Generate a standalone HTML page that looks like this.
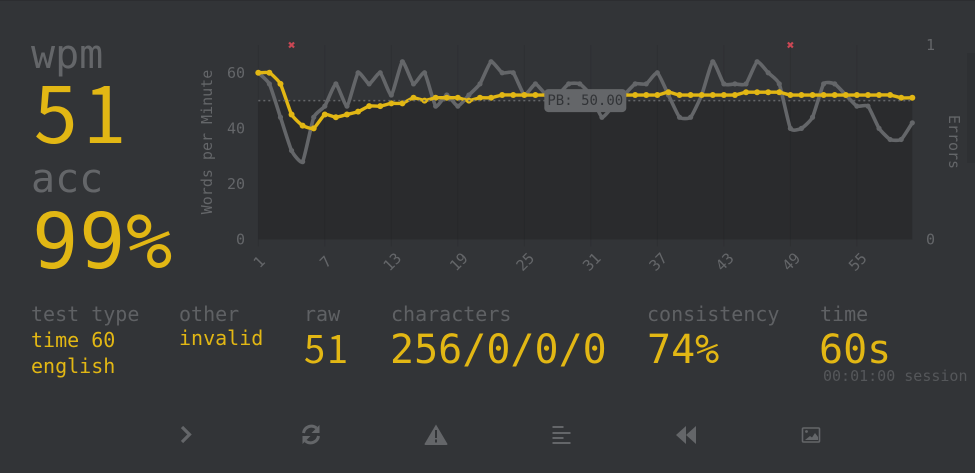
<!DOCTYPE html>
<html lang="en">
<head>
<meta charset="utf-8">
<title>Test result</title>
<style>
html,body{margin:0;padding:0;width:975px;height:473px;overflow:hidden;background:#323437}
svg{display:block;filter:blur(.35px)}
text{font-family:"DejaVu Sans Mono","Liberation Mono",monospace}
.lab{fill:#5f6164;font-size:20px}
.val{fill:#e2b714}
.num{font-family:"Noto Sans CJK JP","Liberation Sans",sans-serif}
.tick{fill:#646669;font-size:15px}
.ico{fill:#646669;stroke:none}
.icl{fill:none;stroke:#646669}
</style>
</head>
<body>
<svg id="root" width="975" height="473" viewBox="0 0 975 473" xmlns="http://www.w3.org/2000/svg">
  <rect x="0" y="0" width="975" height="473" fill="#323437"/>
  <rect x="0" y="0" width="975" height="1" fill="#2c2d30"/>
  <rect x="967" y="53" width="8" height="110" fill="#2e3033"/>

  <text x="31" y="68" font-size="40" fill="#646669">wpm</text>
  <text class="val num" x="34 83" y="143" font-size="78">51</text>
  <text x="31" y="192" font-size="40" fill="#646669">acc</text>
  <text class="val" x="32 79 126" y="268" font-size="77">99%</text>

  <text class="lab" x="31" y="321">test type</text>
  <text class="val" x="31" y="347" font-size="20">time 60</text>
  <text class="val" x="31" y="373" font-size="20">english</text>
  <text class="lab" x="179" y="321">other</text>
  <text class="val" x="179" y="345" font-size="20">invalid</text>
  <text class="lab" x="304" y="321">raw</text>
  <text class="val num" x="304 327" y="363" font-size="38">51</text>
  <text class="lab" x="391" y="321">characters</text>
  <text class="val" x="390" y="363" font-size="40">256/0/0/0</text>
  <text class="lab" x="647" y="321">consistency</text>
  <text class="val" x="647" y="363" font-size="40">74%</text>
  <text class="lab" x="820" y="321">time</text>
  <text class="val" x="819" y="363" font-size="40">60s</text>
  <text x="823" y="381" font-size="15" fill="#55575a">00:01:00 session</text>

  <g id="chart"></g>

  <text class="tick" transform="translate(212,142) rotate(-90)" text-anchor="middle">Words per Minute</text>
  <text class="tick" transform="translate(949,142) rotate(90)" text-anchor="middle">Errors</text>

  <g>
    <path class="icl" d="M182 427 L189.5 434.5 L182 442" stroke-width="3.2"/>
  </g>
  <g>
    <path class="icl" d="M303.5 433 A8 8 0 0 1 316.5 428" stroke-width="3"/>
    <path class="ico" d="M319.5 425 V433 H311.5 Z"/>
    <path class="icl" d="M318.5 436 A8 8 0 0 1 305.5 441" stroke-width="3"/>
    <path class="ico" d="M302.5 444 V436 H310.5 Z"/>
  </g>
  <g>
    <path class="ico" d="M436 424.5 L447.5 444 Q447.5 445 446 445 H426 Q424.5 445 424.5 444 Z"/>
    <rect x="435" y="430" width="2" height="8" fill="#323437"/>
    <rect x="435" y="439.5" width="2" height="3" fill="#323437"/>
  </g>
  <g>
    <rect class="ico" x="552.5" y="426" width="11" height="2"/>
    <rect class="ico" x="552.5" y="432" width="18" height="2"/>
    <rect class="ico" x="552.5" y="437" width="11" height="2"/>
    <rect class="ico" x="552.5" y="442" width="18" height="2"/>
  </g>
  <g>
    <path class="ico" d="M676 435 L686 426 V444 Z"/>
    <path class="ico" d="M686 435 L696 426 V444 Z"/>
  </g>
  <g>
    <rect class="icl" x="802.5" y="428" width="17" height="14" stroke-width="1.6" rx="1"/>
    <circle class="ico" cx="806.5" cy="431.5" r="1.4"/>
    <path class="ico" d="M805 440 L810 436 L812 437.5 L815 433 L818 437 V440 Z"/>
  </g>
</svg>
<script>
var categories = [1,2,3,4,5,6,7,8,9,10,11,12,13,14,15,16,17,18,19,20,21,22,23,24,25,26,27,28,29,30,31,32,33,34,35,36,37,38,39,40,41,42,43,44,45,46,47,48,49,50,51,52,53,54,55,56,57,58,59,60];
var wpmSeries = [60,60,56,45,41,40,45,44,45,46,48,48,49,49,51,50,51,51,51,50,51,51,52,52,52,52,52,52,52,52,52,52,52,52,52,52,52,53,52,52,52,52,52,52,53,53,53,53,52,52,52,52,52,52,52,52,52,52,51,51];
var rawSeries = [60,56,44,32,28,44,48,56,48,60,56,60,52,64,56,60,48,52,48,52,56,64,60,60,52,56,52,52,56,56,52,44,48,52,56,56,60,52,44,44,52,64,56,56,56,64,60,56,40,40,44,56,56,52,48,48,40,36,36,42];
var errorSeries = [0,0,0,1,0,0,0,0,0,0,0,0,0,0,0,0,0,0,0,0,0,0,0,0,0,0,0,0,0,0,0,0,0,0,0,0,0,0,0,0,0,0,0,0,0,0,0,0,1,0,0,0,0,0,0,0,0,0,0,0];
var xTickLabels = [1,7,13,19,25,31,37,43,49,55];
var yTickLabels = [0,20,40,60];
var y2TickLabels = [0,1];
var personalBest = 50;

var NS = 'http://www.w3.org/2000/svg';
var chart = document.getElementById('chart');
var left = 258.3, right = 912.3, bottom = 239.5, top_ = 45;
var xMax = categories[categories.length - 1];
function xScale(v) { return left + (v - 1) * (right - left) / (xMax - 1); }
function yScale(v) { return bottom - v * (bottom - top_) / 70; }
function y2Scale(v) { return bottom - v * (bottom - top_); }
function mk(tag, attrs) {
  var el = document.createElementNS(NS, tag);
  for (var k in attrs) el.setAttribute(k, attrs[k]);
  chart.appendChild(el);
  return el;
}
function curve(values) {
  var p = values.map(function (v, i) { return [xScale(categories[i]), yScale(v)]; });
  var t = 0.08, d = 'M' + p[0][0] + ' ' + p[0][1];
  for (var i = 0; i < p.length - 1; i++) {
    var a = p[Math.max(i - 1, 0)], b = p[i], c = p[i + 1], e = p[Math.min(i + 2, p.length - 1)];
    d += ' C' + (b[0] + (c[0] - a[0]) * t) + ' ' + (b[1] + (c[1] - a[1]) * t) + ' ' +
      (c[0] - (e[0] - b[0]) * t) + ' ' + (c[1] - (e[1] - b[1]) * t) + ' ' + c[0] + ' ' + c[1];
  }
  return d;
}

var pbBox = mk('rect', {x: left, y: yScale(personalBest), width: right - left, height: bottom - yScale(personalBest), fill: '#2a2b2d'});



xTickLabels.forEach(function (t) {
  var x = xScale(t);
  var g = mk('line', {x1: x, x2: x, y1: top_, y2: bottom + 7, stroke: '#000', 'stroke-opacity': '0.08', 'stroke-width': 1});
  
  
  var l = mk('text', {class: 'tick', x: x + 1, y: 267, 'text-anchor': 'middle', transform: 'rotate(-45 ' + (x + 1) + ' 262)'});
  l.textContent = t;
  
  
});
yTickLabels.forEach(function (t) {
  var l = mk('text', {class: 'tick', x: 245, y: yScale(t) + 5, 'text-anchor': 'end'});
  l.textContent = t;
  
  
});
y2TickLabels.forEach(function (t) {
  var l = mk('text', {class: 'tick', x: 926, y: y2Scale(t) + 5});
  l.textContent = t;
  
  
});

var rawLine = mk('path', {d: curve(rawSeries), fill: 'none', stroke: '#646669', 'stroke-width': 3.6, 'stroke-linejoin': 'round'});


rawSeries.forEach(function (v, i) {
  var c = mk('circle', {cx: xScale(categories[i]), cy: yScale(v), r: 2.6, fill: '#646669'});
  
  
});
var wpmLine = mk('path', {d: curve(wpmSeries), fill: 'none', stroke: '#e2b714', 'stroke-width': 3.4, 'stroke-linejoin': 'round'});


wpmSeries.forEach(function (v, i) {
  var c = mk('circle', {cx: xScale(categories[i]), cy: yScale(v), r: 3, fill: '#e2b714'});
  
  
});
var pbLine = mk('line', {x1: left, x2: right, y1: yScale(personalBest), y2: yScale(personalBest), stroke: '#646669', 'stroke-width': 1.5, 'stroke-dasharray': '2 3'});



errorSeries.forEach(function (v, i) {
  if (!v) return;
  var x = xScale(categories[i]), y = y2Scale(v);
  var m = mk('path', {d: 'M' + (x - 2.5) + ' ' + (y - 2.5) + ' L' + (x + 2.5) + ' ' + (y + 2.5) + ' M' + (x + 2.5) + ' ' + (y - 2.5) + ' L' + (x - 2.5) + ' ' + (y + 2.5), stroke: '#ca4754', 'stroke-width': 2.2, fill: 'none'});
  
  
});

var pbCx = (left + right) / 2;
var pbY = yScale(personalBest);
var pbBg = mk('rect', {x: pbCx - 41, y: pbY - 11.5, width: 82, height: 23, rx: 4, fill: '#646669'});


var pbText = mk('text', {x: pbCx, y: pbY + 4.5, 'text-anchor': 'middle', 'font-size': 14, fill: '#323437'});
pbText.textContent = 'PB: ' + personalBest.toFixed(2);


</script>
</body>
</html>
